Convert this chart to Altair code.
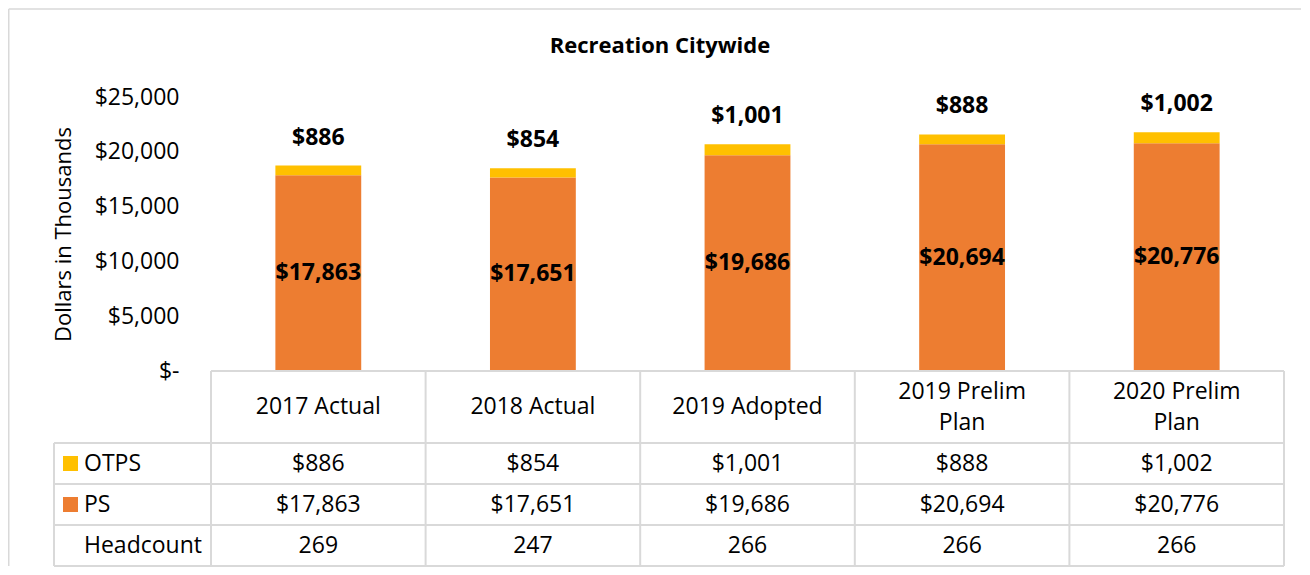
import altair as alt
import pandas as pd

# ---------------- data ----------------
categories = ["2017 Actual", "2018 Actual", "2019 Adopted", "2019 Prelim Plan", "2020 Prelim Plan"]
header_labels = ["2017 Actual", "2018 Actual", "2019 Adopted", "2019 Prelim\nPlan", "2020 Prelim\nPlan"]
ps_values = [17863, 17651, 19686, 20694, 20776]
otps_values = [886, 854, 1001, 888, 1002]
headcount_values = [269, 247, 266, 266, 266]
series_names = ["OTPS", "PS"]
series_colors = ["#FFC000", "#ED7D31"]
y_ticks = [0, 5000, 10000, 15000, 20000, 25000]

# ---------------- layout / style constants ----------------
FONT = "Open Sans"
FS = 23
TXT = "#000000"
GRID = "#D9D9D9"
N = len(categories)
COL_W = 214.6          # px per category column
LEG_W = 157.0          # px of the legend column of the table
LEGX = LEG_W / COL_W   # legend column width in column units
PLOT_W = round(COL_W * N + LEG_W)
BAR_H = 274
HDR_H = 72
ROW_H = 41
LINE_H = 31
TABLE_H = HDR_H + 3 * ROW_H

x_scale = alt.Scale(domain=[-LEGX, N], nice=False, zero=False)

# ---------------- bar chart ----------------
bars_df = pd.DataFrame({
    "idx": list(range(N)) * 2,
    "cat": categories * 2,
    "series": ["PS"] * N + ["OTPS"] * N,
    "order": [0] * N + [1] * N,
    "value": ps_values + otps_values,
})

y_scale = alt.Scale(domain=[0, 25000], nice=False)

bar_base = alt.Chart(bars_df).transform_stack(
    stack="value", as_=["v0", "v1"], groupby=["idx"], sort=[alt.SortField("order")]
).transform_calculate(
    x0="datum.idx + 0.3", x1="datum.idx + 0.7", xc="datum.idx + 0.5",
    vmid="(datum.v0 + datum.v1) / 2"
)

bars = bar_base.mark_bar().encode(
    x=alt.X("x0:Q", scale=x_scale, axis=None),
    x2="x1:Q",
    y=alt.Y("v0:Q", scale=y_scale, axis=alt.Axis(
        values=y_ticks,
        labelExpr="datum.value == 0 ? '$-\u2007' : '$' + format(datum.value, ',')",
        labelFont=FONT, labelFontSize=FS, labelColor=TXT,
        ticks=False, tickSize=0, domain=False, grid=False,
        labelPadding=8, offset=-133,
        title="Dollars in Thousands", titleFont=FONT, titleFontSize=22,
        titleFontWeight="normal", titleColor=TXT, titlePadding=19,
    )),
    y2="v1:Q",
    color=alt.Color("series:N", scale=alt.Scale(domain=series_names, range=series_colors), legend=None),
)

ps_labels = bar_base.transform_filter("datum.series == 'PS'").mark_text(
    font=FONT, fontSize=FS, fontWeight="bold", color=TXT, baseline="middle", align="center"
).encode(
    x=alt.X("xc:Q", scale=x_scale),
    y=alt.Y("vmid:Q", scale=y_scale),
    text=alt.Text("value:Q", format="$,.0f"),
)

otps_labels = bar_base.transform_filter("datum.series == 'OTPS'").mark_text(
    font=FONT, fontSize=FS, fontWeight="bold", color=TXT, baseline="middle", align="center", dy=-28
).encode(
    x=alt.X("xc:Q", scale=x_scale),
    y=alt.Y("v1:Q", scale=y_scale),
    text=alt.Text("value:Q", format="$,.0f"),
)

bar_chart = alt.layer(bars, ps_labels, otps_labels).properties(
    width=PLOT_W, height=BAR_H,
    title=alt.TitleParams(
        "Recreation Citywide", font=FONT, fontSize=22, fontWeight="bold", color=TXT,
        anchor="middle", frame="group", baseline="bottom", offset=6, dx=-9,
    ),
)

# ---------------- data table ----------------
ty_scale = alt.Scale(domain=[0, TABLE_H], reverse=True, nice=False, zero=False)

seg = []
seg.append((0, N, 0, 0))
for k in range(4):
    yy = HDR_H + k * ROW_H
    seg.append((-LEGX, N, yy, yy))
seg.append((-LEGX, -LEGX, HDR_H, TABLE_H))
for i in range(N + 1):
    seg.append((i, i, 0, TABLE_H))
grid_df = pd.DataFrame(seg, columns=["gx", "gx2", "gy", "gy2"])

grid = alt.Chart(grid_df).mark_rule(color=GRID, strokeWidth=2).encode(
    x=alt.X("gx:Q", scale=x_scale, axis=None), x2="gx2:Q",
    y=alt.Y("gy:Q", scale=ty_scale, axis=None), y2="gy2:Q",
)

# first line of a wrapped header sits half a line above the centre per extra line
hdr_df = pd.DataFrame({
    "xc": [i + 0.5 for i in range(N)],
    "yc": [HDR_H / 2 - (lab.count("\n")) * LINE_H / 2 for lab in header_labels],
    "label": header_labels,
})
headers = alt.Chart(hdr_df).mark_text(
    font=FONT, fontSize=FS, color=TXT, lineBreak="\n", lineHeight=LINE_H, baseline="middle", align="center"
).encode(
    x=alt.X("xc:Q", scale=x_scale), y=alt.Y("yc:Q", scale=ty_scale), text="label:N"
)

row_names = ["OTPS", "PS", "Headcount"]
row_vals = [
    [f"${v:,}" for v in otps_values],
    [f"${v:,}" for v in ps_values],
    [f"{v}" for v in headcount_values],
]
cells = []
for r, vals in enumerate(row_vals):
    for i, s in enumerate(vals):
        cells.append({"xc": i + 0.5, "yc": HDR_H + r * ROW_H + ROW_H / 2, "label": s})
cells_df = pd.DataFrame(cells)
cell_text = alt.Chart(cells_df).mark_text(
    font=FONT, fontSize=FS, color=TXT, baseline="middle", align="center"
).encode(
    x=alt.X("xc:Q", scale=x_scale), y=alt.Y("yc:Q", scale=ty_scale), text="label:N"
)

leg_df = pd.DataFrame({
    "series": row_names,
    "yc": [HDR_H + r * ROW_H + ROW_H / 2 for r in range(3)],
    "xt": [-LEGX + 30 / COL_W] * 3,
    "xs": [-LEGX + 16.5 / COL_W] * 3,
})
leg_text = alt.Chart(leg_df).mark_text(
    font=FONT, fontSize=FS, color=TXT, baseline="middle", align="left"
).encode(
    x=alt.X("xt:Q", scale=x_scale), y=alt.Y("yc:Q", scale=ty_scale), text="series:N"
)
leg_sq = alt.Chart(leg_df).transform_filter("datum.series != 'Headcount'").mark_square(
    size=225, opacity=1, filled=True
).encode(
    x=alt.X("xs:Q", scale=x_scale), y=alt.Y("yc:Q", scale=ty_scale),
    color=alt.Color("series:N", scale=alt.Scale(domain=series_names, range=series_colors), legend=None),
)

one = pd.DataFrame({"a": [0]})
frame_top = alt.Chart(one).mark_rule(color=GRID, strokeWidth=1.5).encode(
    x=alt.value(-45.25), x2=alt.value(1247), y=alt.value(-362)
)
frame_left = alt.Chart(one).mark_rule(color=GRID, strokeWidth=1.5).encode(
    x=alt.value(-45.25), y=alt.value(-362), y2=alt.value(TABLE_H)
)

table_chart = alt.layer(grid, headers, cell_text, leg_text, leg_sq, frame_top, frame_left).properties(
    width=PLOT_W, height=TABLE_H
)

chart = alt.vconcat(bar_chart, table_chart, spacing=0, bounds="flush").properties(
    padding=0
).configure(font=FONT).configure_view(strokeWidth=0, stroke="transparent")

chart.save("out.html", embed_options={"renderer": "svg", "actions": False})
